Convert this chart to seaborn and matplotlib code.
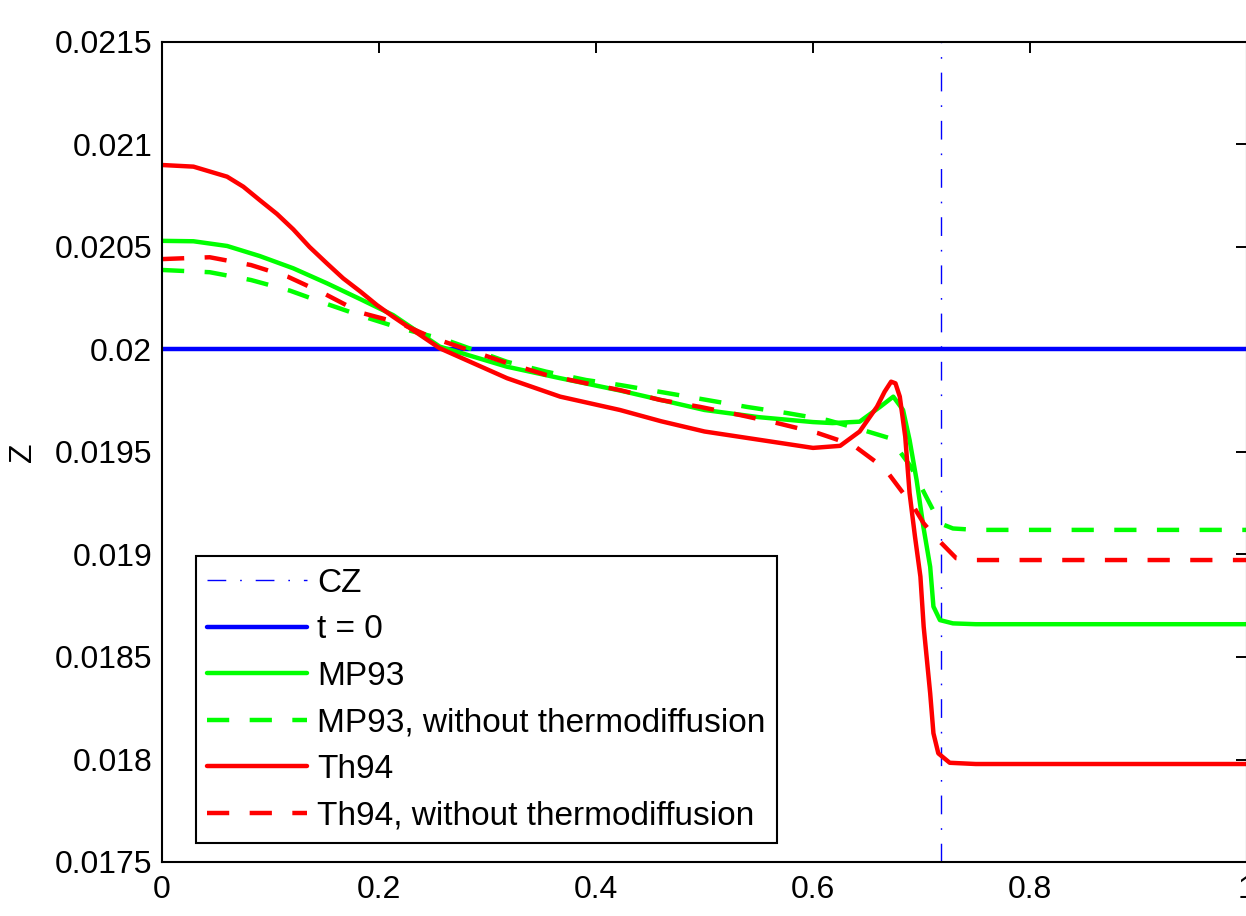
import matplotlib
matplotlib.use("Agg")
import matplotlib.pyplot as plt
import seaborn as sns

# Th94 (solid red)
th94_x = [0, 0.029, 0.060, 0.075, 0.090, 0.106, 0.121, 0.136, 0.152, 0.167, 0.183,
          0.198, 0.213, 0.256, 0.318, 0.367, 0.422, 0.460, 0.500, 0.550, 0.600, 0.625,
          0.643, 0.659, 0.666, 0.672, 0.676, 0.680, 0.685, 0.689, 0.694, 0.699, 0.702,
          0.708, 0.711, 0.7155, 0.726, 0.750, 1.0]
th94 = [0.02090, 0.020892, 0.020843, 0.020794, 0.020729, 0.020661, 0.020586, 0.02050,
        0.02042, 0.020347, 0.020282, 0.020217, 0.02016, 0.020006, 0.01986, 0.01977,
        0.019705, 0.01965, 0.01960, 0.01956, 0.01952, 0.01953, 0.01960, 0.019721,
        0.019794, 0.019843, 0.019835, 0.01977, 0.019575, 0.01930, 0.019087, 0.018892,
        0.018648, 0.018323, 0.018128, 0.01803, 0.017984, 0.017978, 0.017978]

# MP93 (solid green)
mp93_x = [0, 0.029, 0.060, 0.090, 0.121, 0.152, 0.183, 0.213, 0.256, 0.318, 0.367,
          0.422, 0.500, 0.550, 0.600, 0.618, 0.643, 0.662, 0.674, 0.683, 0.689, 0.6955,
          0.7017, 0.708, 0.711, 0.717, 0.729, 0.750, 1.0]
mp93 = [0.02053, 0.020528, 0.020505, 0.020456, 0.020396, 0.020323, 0.020245, 0.020168,
        0.020014, 0.019916, 0.01986, 0.01980, 0.019705, 0.01967, 0.019646, 0.019641,
        0.019648, 0.019721, 0.01977, 0.019705, 0.019559, 0.019363, 0.019136, 0.01894,
        0.018746, 0.01868, 0.018664, 0.01866, 0.01866]

# MP93 without thermodiffusion (dashed green)
mp93_nt_x = [0, 0.044, 0.082, 0.118, 0.152, 0.186, 0.219, 0.262, 0.318, 0.354, 0.391,
             0.422, 0.465, 0.502, 0.539, 0.576, 0.613, 0.646, 0.671, 0.690, 0.704,
             0.717, 0.729, 0.750, 1.0]
mp93_nt = [0.020388, 0.020377, 0.020339, 0.020287, 0.020222, 0.02016, 0.020105,
           0.020046, 0.01994, 0.019892, 0.019851, 0.019827, 0.019788, 0.019754,
           0.01972, 0.01969, 0.019656, 0.019607, 0.019567, 0.01943, 0.019285,
           0.019152, 0.019127, 0.01912, 0.01912]

# Th94 without thermodiffusion (dashed red)
th94_nt_x = [0, 0.044, 0.082, 0.116, 0.149, 0.183, 0.219, 0.250, 0.318, 0.354, 0.391,
             0.422, 0.459, 0.496, 0.533, 0.567, 0.604, 0.637, 0.666, 0.683, 0.689,
             0.702, 0.7125, 0.732, 0.750, 1.0]
th94_nt = [0.020441, 0.02045, 0.020412, 0.020355, 0.020274, 0.02018, 0.020129,
           0.020056, 0.019934, 0.019876, 0.019835, 0.019802, 0.019754, 0.01972,
           0.01968, 0.019641, 0.019593, 0.019534, 0.01942, 0.01930, 0.019266,
           0.019152, 0.019087, 0.018982, 0.018973, 0.018973]

# initial profile and convective-zone boundary
t0_x = [0, 1]
t0_z = [0.02, 0.02]
cz_x = 0.718

xticks = [0, 0.2, 0.4, 0.6, 0.8, 1]
xticklabels = ["0", "0.2", "0.4", "0.6", "0.8", "1"]
yticks = [0.0175, 0.018, 0.0185, 0.019, 0.0195, 0.02, 0.0205, 0.021, 0.0215]
yticklabels = ["0.0175", "0.018", "0.0185", "0.019", "0.0195", "0.02", "0.0205",
               "0.021", "0.0215"]

sns.set_style("white")
plt.rcParams['font.family'] = ['Liberation Sans', 'DejaVu Sans']
plt.rcParams['text.color'] = 'black'
plt.rcParams['axes.labelcolor'] = 'black'

fig = plt.figure(figsize=(12.46, 9.16), dpi=100)
ax = fig.add_axes([162/1246, 1-862/916, 1085/1246, 820/916])

lw = 3.2
dash = (0, (5, 4.6))
ax.axvline(cz_x, color='#0000ff', lw=1.0, linestyle=(0, (13.5, 10, 1.2, 10)), label='CZ')
sns.lineplot(x=t0_x, y=t0_z, ax=ax, color='#0000ff', lw=lw, label='t = 0', estimator=None)
sns.lineplot(x=mp93_x, y=mp93, ax=ax, color='#00ff00', lw=lw, label='MP93',
             estimator=None, sort=False)
sns.lineplot(x=mp93_nt_x, y=mp93_nt, ax=ax, color='#00ff00', lw=lw,
             label='MP93, without thermodiffusion', estimator=None, sort=False,
             linestyle=dash)
sns.lineplot(x=th94_x, y=th94, ax=ax, color='#ff0000', lw=lw, label='Th94',
             estimator=None, sort=False)
sns.lineplot(x=th94_nt_x, y=th94_nt, ax=ax, color='#ff0000', lw=lw,
             label='Th94, without thermodiffusion', estimator=None, sort=False,
             linestyle=dash)

ax.set_xlim(0, 1)
ax.set_ylim(0.0175, 0.0215)
ax.set_xticks(xticks)
ax.set_xticklabels(xticklabels)
ax.set_yticks(yticks)
ax.set_yticklabels(yticklabels)
ax.tick_params(direction='in', length=8, width=1.4, top=True, right=True,
               labelsize=23, colors='black')
ax.tick_params(axis='y', pad=7)
ax.tick_params(axis='x', pad=9)
for s in ax.spines.values():
    s.set_color('black')
    s.set_linewidth(1.5)
ax.set_ylabel('Z', fontsize=23, labelpad=12, color='black')
ax.set_xlabel('')

leg = ax.legend(loc='lower left', bbox_to_anchor=(0.031, 0.023), fontsize=24,
                frameon=True, fancybox=False, edgecolor='black', framealpha=1,
                handlelength=3.0, handletextpad=0.3, labelspacing=0.466, borderpad=0.35,
                borderaxespad=0, labelcolor='black')
leg.get_frame().set_linewidth(1.5)

fig.savefig('out.png', dpi=100)
